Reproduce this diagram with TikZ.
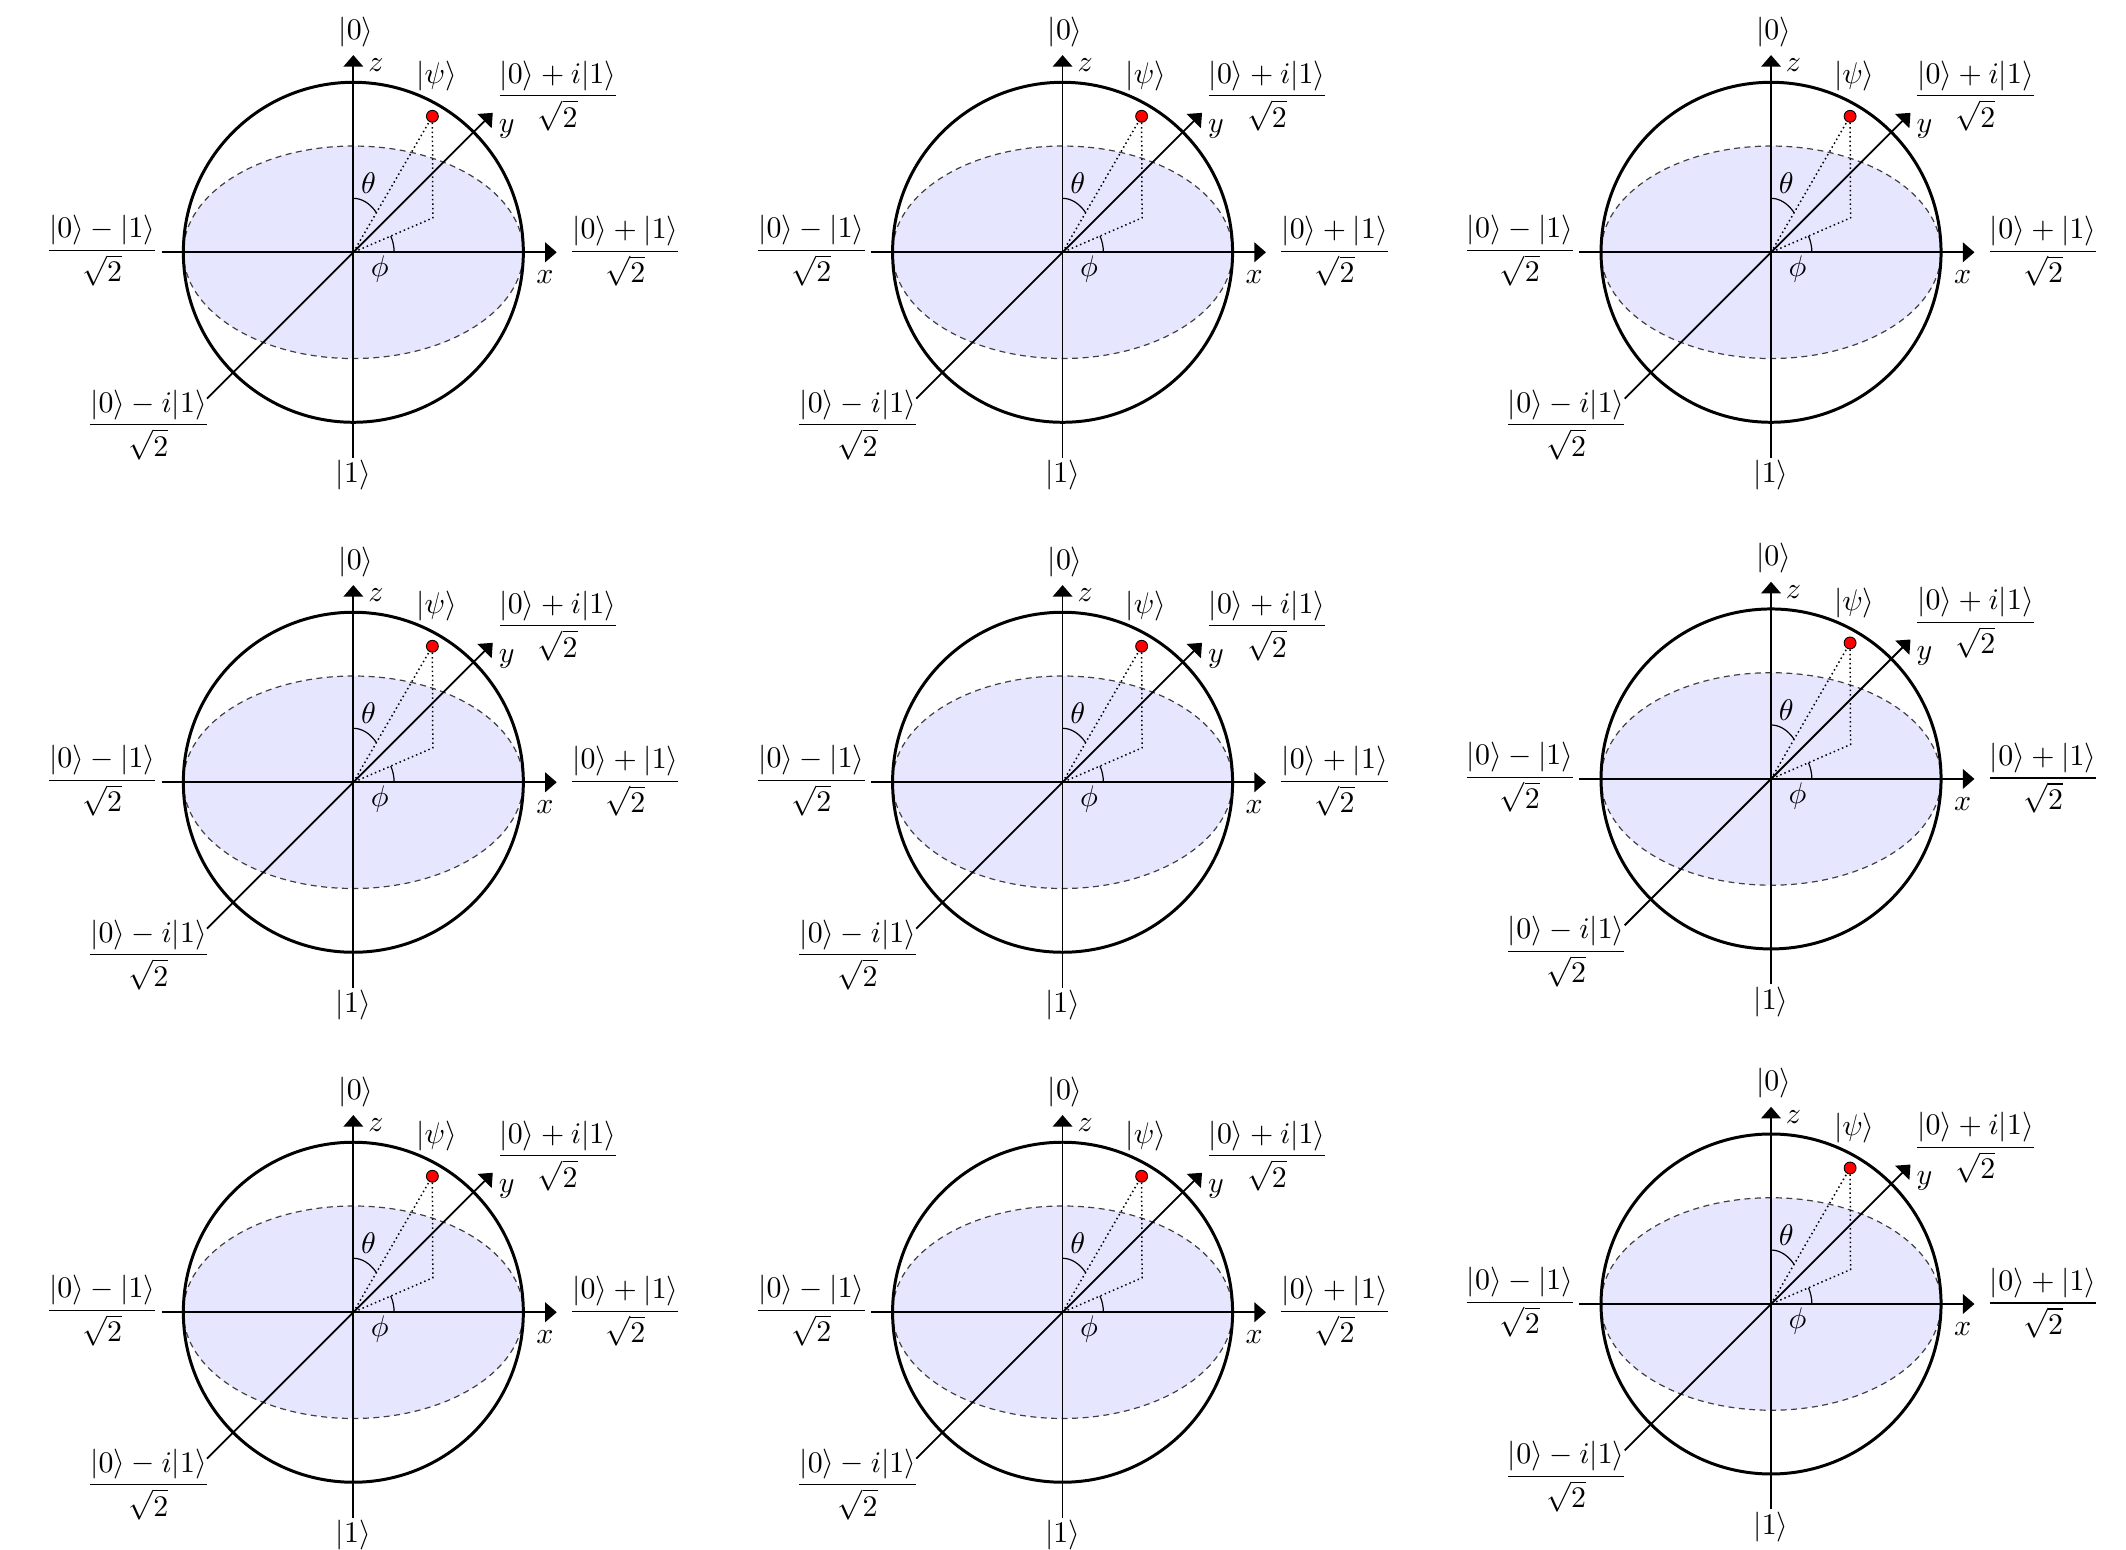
\documentclass[tikz,border=0pt]{standalone}
\usepackage{amsmath}
\usetikzlibrary{arrows.meta}
\definecolor{cdisk}{RGB}{230,230,255}
\definecolor{cdot}{RGB}{255,0,0}
\newcommand{\ket}[1]{\lvert #1\rangle}
\tikzset{
  every picture/.style={line width=0.6pt},
  sphere/.style={line width=1pt},
  disk/.style={draw=black!75, fill=cdisk, line width=0.4pt, dash pattern=on 2pt off 1.5pt},
  axis/.style={-{Triangle[length=3.9pt, width=6.6pt]}, line width=0.6pt},
  guide/.style={densely dotted, line width=0.5pt},
  angle/.style={line width=0.4pt},
  state/.style={circle, draw=black, fill=cdot, line width=0.3pt, inner sep=0pt, minimum size=0.14cm},
  lbl/.style={inner sep=0pt},
}

\begin{document}
\begin{tikzpicture}[every node/.append style={lbl}]
  \useasboundingbox (-4.157,2.968) rectangle (20.855,-15.267);
  \foreach \X/\Y [count=\n] in {0/0, 8.344/0, 16.679/0, 0/-6.235, 8.344/-6.235, 16.679/-6.196, 0/-12.47, 8.344/-12.47, 16.679/-12.373} {
    \begin{scope}[shift={(\X,\Y)}]
      \coordinate (O-\n) at (0,0);
      \coordinate (xa-\n) at (-2.255,0);
      \coordinate (xb-\n) at (2.393,0);
      \coordinate (za-\n) at (0,-2.416);
      \coordinate (zb-\n) at (0,2.32);
      \coordinate (ya-\n) at (225:2.435);
      \coordinate (yb-\n) at (45:2.32);
      \coordinate (Q-\n) at (0.935,0.405);
      \draw[disk] (O-\n) ellipse [x radius=2, y radius=1.25];
      \draw[sphere] (O-\n) circle (2);
      \draw[axis] (xa-\n) -- (xb-\n);
      \draw[axis] (za-\n) -- (zb-\n);
      \draw[axis] (ya-\n) -- (yb-\n);
      \node[state] (P-\n) at (0.93,1.60) {};
      \draw[guide] (O-\n) -- (P-\n);
      \draw[guide] (P-\n) -- (Q-\n) -- (O-\n);
      \draw[angle] (0,0.635) arc [start angle=90, end angle=47.3, x radius=0.4, y radius=0.635];
      \draw[angle] (0.48,0) arc [start angle=0, end angle=23.4, radius=0.48];
      \node (k0-\n) at (0.03,2.595) {$\ket{0}$};
      \node (k1-\n) at (0,-2.62) {$\ket{1}$};
      \node (zl-\n) at (0.265,2.20) {$z$};
      \node (yl-\n) at (1.805,1.45) {$y$};
      \node (xl-\n) at (2.255,-0.29) {$x$};
      \node (psi-\n) at (0.98,2.07) {$\ket{\psi}$};
      \node (th-\n) at (0.18,0.81) {$\theta$};
      \node (ph-\n) at (0.31,-0.20) {$\phi$};
      \node (yp-\n) at (2.405,1.84) {$\dfrac{\ket{0}+i\ket{1}}{\sqrt{2}}$};
      \node (xp-\n) at (3.20,0.01) {$\dfrac{\ket{0}+\ket{1}}{\sqrt{2}}$};
      \node (xm-\n) at (-2.955,0.02) {$\dfrac{\ket{0}-\ket{1}}{\sqrt{2}}$};
      \node (ym-\n) at (-2.41,-2.03) {$\dfrac{\ket{0}-i\ket{1}}{\sqrt{2}}$};
    \end{scope}
  }
\end{tikzpicture}
\end{document}
